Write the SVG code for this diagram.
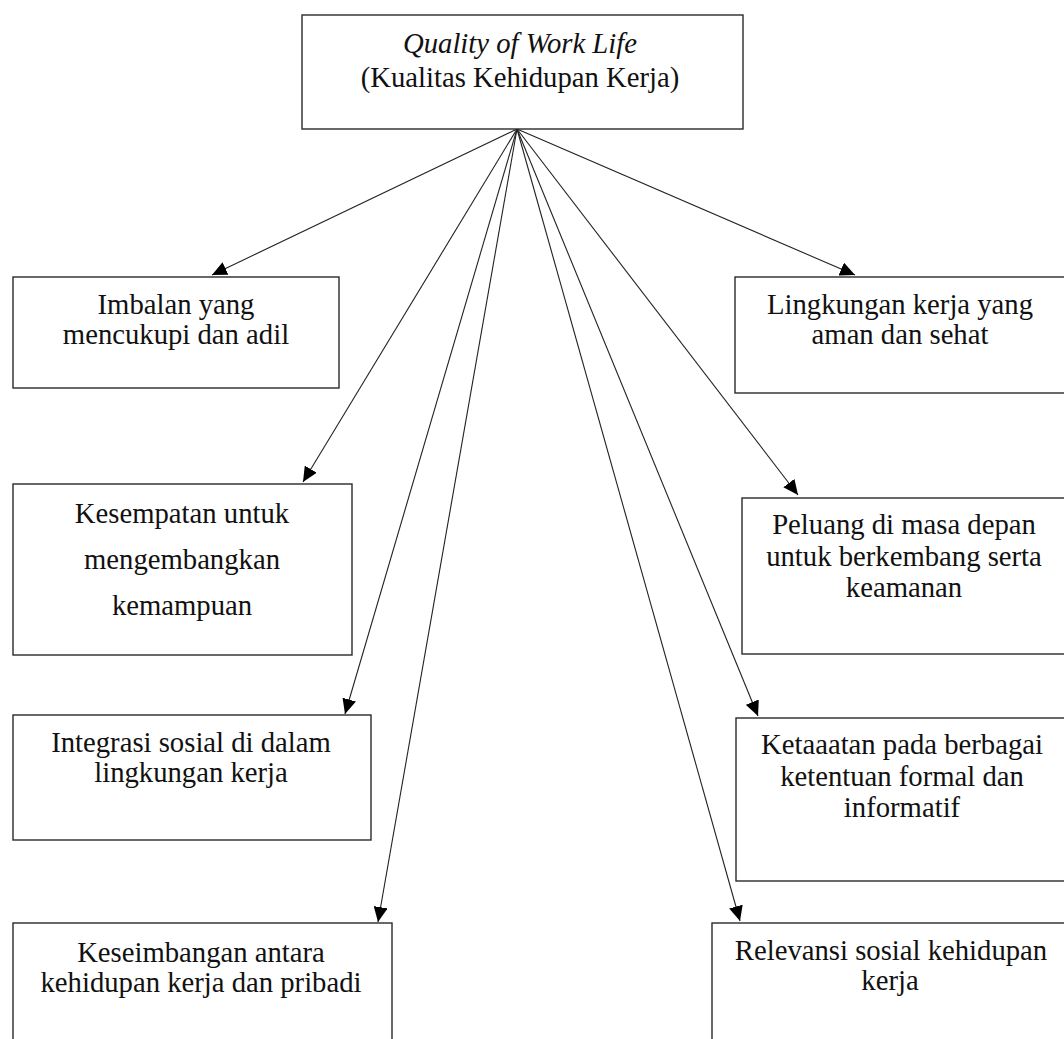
<svg xmlns="http://www.w3.org/2000/svg" width="1064" height="1039" viewBox="0 0 1064 1039">
<style>
.box{fill:#fff;stroke:#2a2a2a;stroke-width:1.4}
.t{font-family:"Liberation Serif","Times New Roman",serif;font-size:28.7px;fill:#111;text-anchor:middle}
.it{font-style:italic}
.c{stroke:#222;stroke-width:1.1;fill:none;marker-end:url(#ah)}
</style>
<defs>
<marker id="ah" viewBox="0 0 15 14" refX="15" refY="7" markerWidth="15" markerHeight="14" markerUnits="userSpaceOnUse" orient="auto">
<path d="M0,0 L15,7 L0,14 z" fill="#000"/>
</marker>
</defs>
<rect width="1064" height="1039" fill="#fff"/>
<g id="connectors">
<line class="c" x1="517" y1="129" x2="212" y2="275"/>
<line class="c" x1="517" y1="129" x2="855" y2="275"/>
<line class="c" x1="517" y1="129" x2="303" y2="482"/>
<line class="c" x1="517" y1="129" x2="798" y2="495"/>
<line class="c" x1="517" y1="129" x2="345" y2="714"/>
<line class="c" x1="517" y1="129" x2="758" y2="716"/>
<line class="c" x1="517" y1="129" x2="378" y2="922"/>
<line class="c" x1="517" y1="129" x2="740" y2="921"/>
</g>
<g id="qwl">
<rect class="box" x="302" y="15" width="441" height="114"/>
<text class="t it" x="520" y="53">Quality of Work Life</text>
<text class="t" x="520" y="87">(Kualitas Kehidupan Kerja)</text>
</g>
<g id="imbalan">
<rect class="box" x="13" y="277" width="326" height="111"/>
<text class="t" x="176" y="314">Imbalan yang</text>
<text class="t" x="176" y="344">mencukupi dan adil</text>
</g>
<g id="lingkungan">
<rect class="box" x="735" y="277" width="340" height="116"/>
<text class="t" x="900" y="314">Lingkungan kerja yang</text>
<text class="t" x="900" y="344">aman dan sehat</text>
</g>
<g id="kesempatan">
<rect class="box" x="13" y="484" width="339" height="171"/>
<text class="t" x="182" y="523">Kesempatan untuk</text>
<text class="t" x="182" y="569">mengembangkan</text>
<text class="t" x="182" y="615">kemampuan</text>
</g>
<g id="peluang">
<rect class="box" x="742" y="498" width="333" height="156"/>
<text class="t" x="904" y="534">Peluang di masa depan</text>
<text class="t" x="904" y="566">untuk berkembang serta</text>
<text class="t" x="904" y="597">keamanan</text>
</g>
<g id="integrasi">
<rect class="box" x="13" y="715" width="358" height="125"/>
<text class="t" x="191" y="752">Integrasi sosial di dalam</text>
<text class="t" x="191" y="782">lingkungan kerja</text>
</g>
<g id="ketaatan">
<rect class="box" x="736" y="718" width="339" height="163"/>
<text class="t" x="902" y="754">Ketaaatan pada berbagai</text>
<text class="t" x="902" y="786">ketentuan formal dan</text>
<text class="t" x="902" y="817">informatif</text>
</g>
<g id="keseimbangan">
<rect class="box" x="13" y="923" width="379" height="130"/>
<text class="t" x="201" y="962">Keseimbangan antara</text>
<text class="t" x="201" y="992">kehidupan kerja dan pribadi</text>
</g>
<g id="relevansi">
<rect class="box" x="712" y="923" width="363" height="130"/>
<text class="t" x="891" y="960">Relevansi sosial kehidupan</text>
<text class="t" x="890" y="990">kerja</text>
</g>
</svg>
